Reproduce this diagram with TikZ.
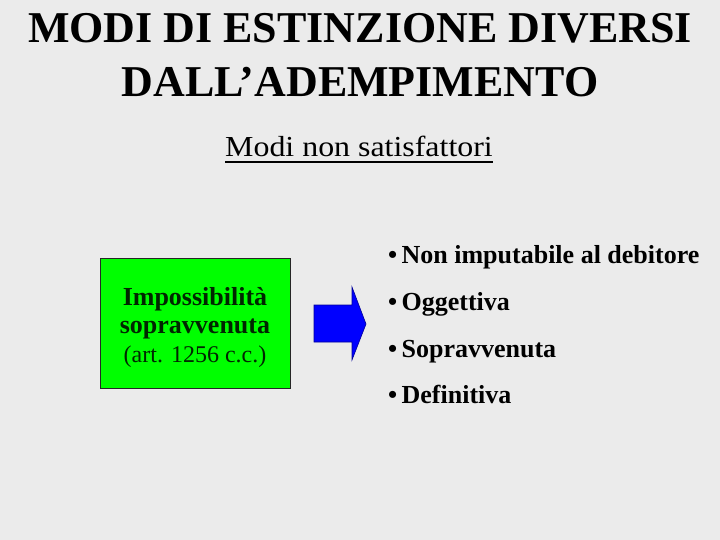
\documentclass[tikz,border=0pt]{standalone}
\usepackage{fontspec}
\setmainfont{Liberation Serif}
\usepackage{graphicx}
\definecolor{bg}{HTML}{EBEBEB}
\definecolor{boxgreen}{HTML}{00FF00}
\definecolor{arrowblue}{HTML}{0000FF}
\begin{document}
\begin{tikzpicture}[x=1pt,y=-1pt,
  titletext/.style={font=\fontsize{44}{48}\selectfont\bfseries, anchor=base, inner sep=0},
  bullettext/.style={font=\fontsize{26}{28}\selectfont\bfseries, anchor=base west, inner sep=0},
  boxtext/.style={font=\fontsize{26}{28}\selectfont, anchor=base, inner sep=0, text=black!85!green},
]
\fill[bg] (0,0) rectangle (720,540);
\useasboundingbox (0,0) rectangle (720,540);
\node[titletext] (t1) at (360,43) {MODI DI ESTINZIONE DIVERSI};
\node[titletext] (t2) at (360,97) {DALL’ADEMPIMENTO};
\node[font=\fontsize{29}{32}\selectfont, inner sep=0, anchor=base] (sub) at (359,157) {\scalebox{1.1}[1]{Modi non satisfattori}};
\draw[line width=2pt] (225,162) -- (493,162);
\node[draw=black!85, line width=0.9pt, fill=boxgreen, minimum width=190, minimum height=130] (box) at (195,323) {};
\node[boxtext] (l1) at (195,305) {\bfseries Impossibilità};
\node[boxtext] (l2) at (195,333) {\bfseries sopravvenuta};
\node[boxtext, font=\fontsize{24}{28}\selectfont] (l3) at (195,362) {(art. 1256 c.c.)};
\fill[arrowblue, draw=blue!60!black, line width=0.6pt]
  (314,305) -- (352,305) -- (352,287) -- (366,324) -- (352,360) -- (352,342) -- (314,342) -- cycle;
\node[bullettext] (b1) at (388,263) {•\,Non imputabile al debitore};
\node[bullettext] (b2) at (388,310) {•\,Oggettiva};
\node[bullettext] (b3) at (388,357) {•\,Sopravvenuta};
\node[bullettext] (b4) at (388,403) {•\,Definitiva};
\end{tikzpicture}
\end{document}
